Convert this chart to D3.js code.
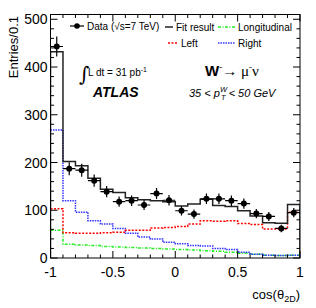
<!DOCTYPE html>
<html><head><meta charset="utf-8">
<script src="https://cdn.jsdelivr.net/npm/d3@7"></script>
<style>body{margin:0;background:#fff}svg{display:block;font-family:"Liberation Sans",Arial,sans-serif}</style>
</head><body><svg id="c" width="316" height="308"></svg>
<script>
const binEdges = d3.range(21).map(i => -1 + i * 0.1);
const dataVals = [443,187,184,162,139,118,120,111,135,121,99,92,124,124,120,114,93,87,62,95];
const fitVals  = [432,202,193,167,144,137,126,122,120,118,109,113,123,110,108,99,88,74,73,112];
const leftVals = [103,53,52,52,53,54,58,58,63,64,66,71,78,77,78,72,70,61,61,96];
const rightVals= [268,120,96,78,71,62,52,44,40,33,30,26,25,20,18,12,8,6,5,6];
const longVals = [58,29,27,26,24,23,22,21,20,19,18,17,15,14,12,10,8,6,5,6];
const xTicks = [-1,-0.5,0,0.5,1];
const xTickLabels = ["-1","-0.5","0","0.5","1"];
const yTicks = [0,100,200,300,400,500];

const svg = d3.select("#c");
const x = d3.scaleLinear().domain([-1,1]).range([50.5,300]);
const y = d3.scaleLinear().domain([0,510]).range([258,14.5]);

function stepPts(vals, close){
  const pts = [];
  if (close) pts.push([binEdges[0],0]);
  vals.forEach((v,i)=>{pts.push([binEdges[i],v]);pts.push([binEdges[i+1],v]);});
  if (close) pts.push([binEdges[20],0]);
  return pts;
}
const line = d3.line().x(d=>x(d[0])).y(d=>y(d[1]));

const clip = svg.append("clipPath").attr("id","pc").append("rect")
  .attr("x",x(-1)).attr("y",y(510)).attr("width",x(1)-x(-1)).attr("height",y(0)-y(510));
const plot = svg.append("g").attr("clip-path","url(#pc)");

plot.append("path").attr("d",line(stepPts(longVals))).attr("fill","none")
  .attr("stroke","#22ee22").attr("stroke-width",1.5).attr("stroke-dasharray","3,1.5,1,1.5");
plot.append("path").attr("d",line(stepPts(rightVals))).attr("fill","none")
  .attr("stroke","#3333ff").attr("stroke-width",1.5).attr("stroke-dasharray","1.5,1");
plot.append("path").attr("d",line(stepPts(leftVals))).attr("fill","none")
  .attr("stroke","#ff0000").attr("stroke-width",1.5).attr("stroke-dasharray","2,1.5");
plot.append("path").attr("d",line(stepPts(fitVals,true))).attr("fill","none")
  .attr("stroke","#222").attr("stroke-width",1.5);

// data points
const dg = plot.append("g");
dataVals.forEach((v,i)=>{
  const c = (binEdges[i]+binEdges[i+1])/2, e = Math.sqrt(v);
  dg.append("line").attr("x1",x(binEdges[i])).attr("x2",x(binEdges[i+1])).attr("y1",y(v)).attr("y2",y(v)).attr("stroke","#000").attr("stroke-width",1.2);
  dg.append("line").attr("x1",x(c)).attr("x2",x(c)).attr("y1",y(v-e)).attr("y2",y(v+e)).attr("stroke","#000").attr("stroke-width",1.2);
  dg.append("circle").attr("cx",x(c)).attr("cy",y(v)).attr("r",3).attr("fill","#000");
});

// frame
svg.append("rect").attr("x",x(-1)).attr("y",y(510)).attr("width",x(1)-x(-1)).attr("height",y(0)-y(510))
  .attr("fill","none").attr("stroke","#000").attr("stroke-width",1);

// ticks
const tk = svg.append("g").attr("stroke","#000").attr("stroke-width",1);
d3.range(0,511,20).forEach(v=>{
  const L = v%100===0 ? 7 : 3.5;
  tk.append("line").attr("x1",x(-1)).attr("x2",x(-1)+L).attr("y1",y(v)).attr("y2",y(v));
  tk.append("line").attr("x1",x(1)).attr("x2",x(1)-L).attr("y1",y(v)).attr("y2",y(v));
});
d3.range(0,21).forEach(i=>{
  const v = -1+i*0.1, L = i%5===0 ? 7 : 3.5;
  tk.append("line").attr("x1",x(v)).attr("x2",x(v)).attr("y1",y(0)).attr("y2",y(0)-L);
  tk.append("line").attr("x1",x(v)).attr("x2",x(v)).attr("y1",y(510)).attr("y2",y(510)+L);
});

// tick labels
yTicks.forEach(v=>{
  svg.append("text").attr("x",x(-1)-3).attr("y",y(v)+5).attr("text-anchor","end")
    .attr("font-size",14).text(v);
});
xTicks.forEach((v,i)=>{
  svg.append("text").attr("x",x(v)).attr("y",277).attr("text-anchor","middle")
    .attr("font-size",14).text(xTickLabels[i]);
});

// axis titles
svg.append("text").attr("transform","translate(18,16) rotate(-90)").attr("text-anchor","end")
  .attr("font-size",13).text("Entries/0.1");
const xt = svg.append("text").attr("x",300).attr("y",299).attr("text-anchor","end").attr("font-size",13);
xt.append("tspan").text("cos(θ");
xt.append("tspan").attr("font-size",9).attr("dy",3).text("2D");
xt.append("tspan").attr("dy",-3).text(")");

// legend
const lg = svg.append("g").attr("font-size",10);
lg.append("line").attr("x1",70).attr("x2",84).attr("y1",26).attr("y2",26).attr("stroke","#000").attr("stroke-width",1.2);
lg.append("circle").attr("cx",77).attr("cy",26).attr("r",2.8).attr("fill","#000");
lg.append("text").attr("x",87).attr("y",29.5).text("Data (√s=7 TeV)");
lg.append("line").attr("x1",165).attr("x2",173).attr("y1",27).attr("y2",27).attr("stroke","#222").attr("stroke-width",1.5);
lg.append("text").attr("x",176).attr("y",30.5).text("Fit result");
lg.append("line").attr("x1",218).attr("x2",235).attr("y1",27).attr("y2",27).attr("stroke","#22ee22").attr("stroke-width",1.5).attr("stroke-dasharray","3,1.5,1,1.5");
lg.append("text").attr("x",238).attr("y",30.5).text("Longitudinal");
lg.append("line").attr("x1",168).attr("x2",178).attr("y1",43).attr("y2",43).attr("stroke","#ff0000").attr("stroke-width",1.5).attr("stroke-dasharray","2,1.5");
lg.append("text").attr("x",181).attr("y",47).text("Left");
lg.append("line").attr("x1",218).attr("x2",235).attr("y1",43).attr("y2",43).attr("stroke","#3333ff").attr("stroke-width",1.5).attr("stroke-dasharray","1.5,1");
lg.append("text").attr("x",238).attr("y",47).text("Right");

// luminosity & ATLAS
svg.append("text").attr("x",79).attr("y",81).attr("font-size",20).attr("font-family","DejaVu Serif").text("∫");
const lum = svg.append("text").attr("x",88).attr("y",76).attr("font-size",10);
lum.append("tspan").text("L dt = 31 pb");
lum.append("tspan").attr("font-size",7).attr("dy",-4).text("-1");
svg.append("text").attr("x",93).attr("y",97).attr("font-size",14).attr("font-weight","bold").attr("font-style","italic").text("ATLAS");

// process label
const pr = svg.append("text").attr("x",205).attr("y",76).attr("font-size",15);
pr.append("tspan").attr("font-weight","bold").text("W");
pr.append("tspan").attr("font-size",9).attr("dy",-6).text("-");
pr.append("tspan").attr("dy",6).attr("font-family","Liberation Serif").text("→ μ");
pr.append("tspan").attr("font-size",9).attr("dy",-6).attr("font-family","Liberation Serif").text("-");
pr.append("tspan").attr("dy",6).attr("font-family","Liberation Serif").text("ν");

const pt = svg.append("text").attr("x",189).attr("y",97).attr("font-size",11).attr("font-style","italic");
pt.append("tspan").text("35 < p");
pt.append("tspan").attr("font-size",7.5).attr("dy",-5).text("W");
pt.append("tspan").attr("font-size",7.5).attr("dx",-6).attr("dy",8).text("T");
pt.append("tspan").attr("dy",-3).text(" < 50 GeV");
</script></body></html>
